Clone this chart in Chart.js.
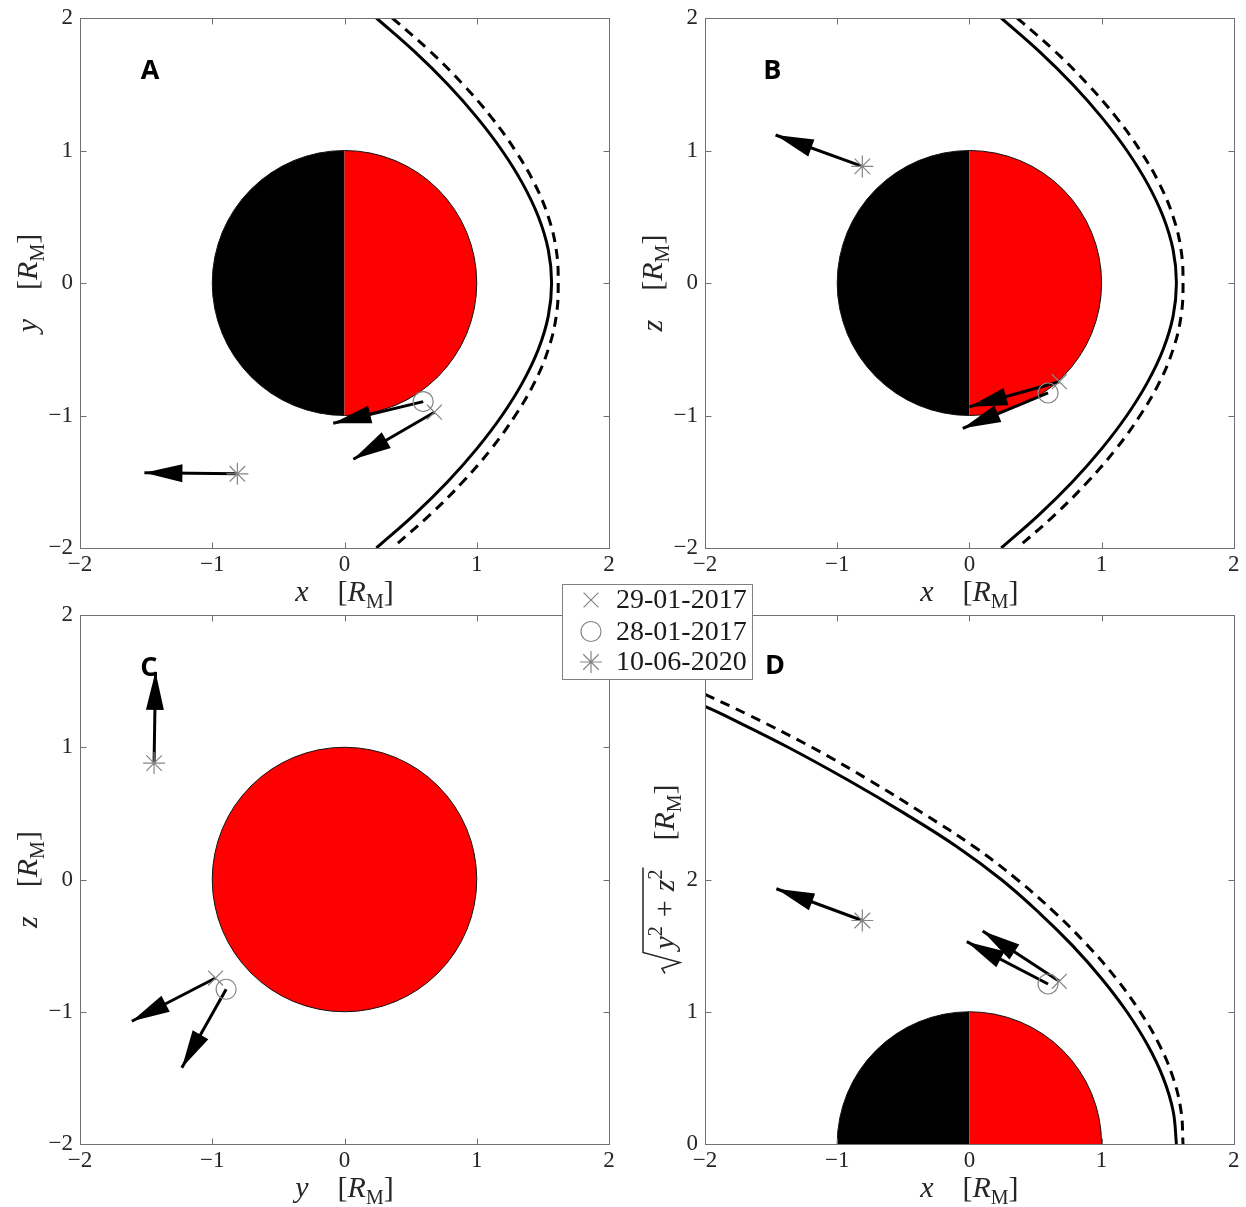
<!DOCTYPE html>
<html>
<head>
<meta charset="utf-8">
<title>Spacecraft positions and flow directions</title>
<script src="https://cdn.jsdelivr.net/npm/chart.js@4.4.1/dist/chart.umd.min.js"></script>
<style>
  html, body { margin: 0; padding: 0; background: #fff; }
  #wrap { position: relative; width: 1246px; height: 1207px; }
  #wrap canvas { position: absolute; left: 0; top: 0; }
</style>
</head>
<body>
<div id="wrap">
  <canvas id="panelA" width="1246" height="1207"></canvas>
  <canvas id="panelB" width="1246" height="1207"></canvas>
  <canvas id="panelC" width="1246" height="1207"></canvas>
  <canvas id="panelD" width="1246" height="1207"></canvas>
</div>
<script>
// everything in units of R_M
const axisMin = -2
const axisMax = 2
const rhoMax = 4
const rhoTicks = [0, 1, 2]
const planetRadius = 1

const dates = ['29-01-2017', '28-01-2017', '10-06-2020']

// spacecraft positions (same for every panel)
const posX = [0.68, 0.595, -0.81]
const posY = [-0.975, -0.895, -1.44]
const posZ = [-0.745, -0.83, 0.88]
const posRho = [1.23, 1.21, 1.69]

// arrow tips, one pair of arrays per panel
const tipAx = [0.067, -0.085, -1.513]
const tipAy = [-1.33, -1.059, -1.432]
const tipBx = [0.0, -0.05, -1.466]
const tipBz = [-0.934, -1.097, 1.117]
const tipCy = [-1.608, -1.23, -1.429]
const tipCz = [-1.072, -1.424, 1.57]
const tipDx = [0.10, -0.02, -1.46]
const tipDrho = [1.61, 1.53, 1.93]

// boundaries in the x-y and x-z planes (panels A and B)
const solidX = [0.241, 0.526, 0.780, 1.001, 1.191, 1.347, 1.466, 1.541, 1.566,
  1.541, 1.466, 1.347, 1.191, 1.001, 0.780, 0.526, 0.241]
const solidY = [2.0, 1.75, 1.5, 1.25, 1.0, 0.75, 0.5, 0.25, 0,
  -0.25, -0.5, -0.75, -1.0, -1.25, -1.5, -1.75, -2.0]
const dashX = [0.361, 0.646, 0.895, 1.111, 1.291, 1.437, 1.541, 1.601, 1.616,
  1.601, 1.541, 1.437, 1.291, 1.111, 0.895, 0.646, 0.361]
const dashY = [2.0, 1.75, 1.5, 1.25, 1.0, 0.75, 0.5, 0.25, 0,
  -0.25, -0.5, -0.75, -1.0, -1.25, -1.5, -1.75, -2.0]

// same boundaries against sqrt(y^2+z^2) (panel D)
const solidDx = [-2.0, -1.872, -1.372, -0.916, -0.491, -0.097, 0.241, 0.526, 0.780, 1.001, 1.191, 1.347, 1.466, 1.541, 1.566]
const solidDrho = [3.31, 3.25, 3.0, 2.75, 2.5, 2.25, 2.0, 1.75, 1.5, 1.25, 1.0, 0.75, 0.5, 0.25, 0]
const dashDx = [-2.0, -1.682, -1.192, -0.756, -0.351, 0.033, 0.361, 0.646, 0.895, 1.111, 1.291, 1.437, 1.541, 1.601, 1.616]
const dashDrho = [3.4, 3.25, 3.0, 2.75, 2.5, 2.25, 2.0, 1.75, 1.5, 1.25, 1.0, 0.75, 0.5, 0.25, 0]

// panel letters, placed in data coordinates
const letters = ['A', 'B', 'C', 'D']
const letterX = [-1.47, -1.49, -1.48, -1.47]
const letterY = [1.6, 1.6, 1.6, 3.61]

// styles
const markerStyles = ['crossRot', 'circle', 'star']
const markerRadius = [10.5, 10, 11]
const markerGray = '#858585'
const boxGray = '#707070'
const dayRed = '#ff0000'
const serif = '"Liberation Serif", "DejaVu Serif", serif'

const fRoman = '30px ' + serif
const fItal = 'italic 30px ' + serif
const fSub = '20px ' + serif
const rmRuns = [
  { t: '[', f: fRoman },
  { t: 'R', f: fItal },
  { t: 'M', f: fSub, dy: 7 },
  { t: ']', f: fRoman }
]
function coordTitle(c) {
  return [{ t: c, f: fItal }, { gap: 29 }].concat(rmRuns)
}
const rhoTitle = [
  { radical: true, w: 25 },
  { t: 'y', f: fItal },
  { t: '2', f: fSub, dy: -12 },
  { gap: 9 },
  { t: '+', f: fRoman },
  { gap: 9 },
  { t: 'z', f: fItal },
  { t: '2', f: fSub, dy: -12 },
  { endRadical: true },
  { gap: 29 }
].concat(rmRuns)

function fmtTick(v) {
  return v < 0 ? '\u2212' + (-v) : '' + v
}

function pts(xs, ys) {
  return xs.map((x, i) => ({ x: x, y: ys[i] }))
}

// text made of several runs (fonts, sub/superscripts), centred on cx
function drawRuns(ctx, runs, cx, baseY) {
  let w = 0
  runs.forEach(r => {
    if (r.gap) { w += r.gap; return }
    if (r.radical) { w += r.w; return }
    if (r.endRadical) return
    ctx.font = r.f
    r.mw = ctx.measureText(r.t).width
    w += r.mw
  })
  let x = cx - w / 2
  let radStart = null
  runs.forEach(r => {
    if (r.gap) { x += r.gap; return }
    if (r.radical) { radStart = x; x += r.w; return }
    if (r.endRadical) {
      const top = baseY - 31
      ctx.save()
      ctx.lineWidth = 1.5
      ctx.lineJoin = 'miter'
      ctx.beginPath()
      ctx.moveTo(radStart + 1, baseY - 9)
      ctx.lineTo(radStart + 6, baseY - 12)
      ctx.lineTo(radStart + 12, baseY + 6)
      ctx.lineTo(radStart + 22, top)
      ctx.lineTo(x + 2, top)
      ctx.stroke()
      ctx.restore()
      return
    }
    ctx.font = r.f
    ctx.fillText(r.t, x, baseY + (r.dy || 0))
    x += r.mw
  })
}

function drawMarker(ctx, style, x, y, r) {
  ctx.beginPath()
  if (style === 'circle') {
    ctx.arc(x, y, r, 0, Math.PI * 2)
  } else {
    const d = r * Math.SQRT1_2
    ctx.moveTo(x - d, y - d); ctx.lineTo(x + d, y + d)
    ctx.moveTo(x - d, y + d); ctx.lineTo(x + d, y - d)
    if (style === 'star') {
      ctx.moveTo(x - r, y); ctx.lineTo(x + r, y)
      ctx.moveTo(x, y - r); ctx.lineTo(x, y + r)
    }
  }
  ctx.stroke()
}

function decorPlugin(p) {
  return {
    id: 'decor',
    beforeDatasetsDraw(chart) {
      const ctx = chart.ctx
      const xs = chart.scales.x
      const ys = chart.scales.y
      const area = chart.chartArea
      const cx = xs.getPixelForValue(0)
      const cy = ys.getPixelForValue(0)
      const rx = xs.getPixelForValue(planetRadius) - cx
      const ry = cy - ys.getPixelForValue(planetRadius)

      ctx.save()
      ctx.beginPath()
      ctx.rect(area.left, area.top, area.right - area.left, area.bottom - area.top)
      ctx.clip()
      if (p.planet === 'split') {
        ctx.fillStyle = '#000'
        ctx.beginPath()
        ctx.ellipse(cx, cy, rx, ry, 0, Math.PI / 2, Math.PI * 1.5)
        ctx.closePath()
        ctx.fill()
        ctx.fillStyle = dayRed
        ctx.beginPath()
        ctx.ellipse(cx, cy, rx, ry, 0, -Math.PI / 2, Math.PI / 2)
        ctx.closePath()
        ctx.fill()
      } else {
        ctx.fillStyle = dayRed
        ctx.beginPath()
        ctx.ellipse(cx, cy, rx, ry, 0, 0, Math.PI * 2)
        ctx.fill()
      }
      ctx.strokeStyle = '#111'
      ctx.lineWidth = 1
      ctx.beginPath()
      ctx.ellipse(cx, cy, rx, ry, 0, 0, Math.PI * 2)
      ctx.stroke()
      ctx.restore()

      // panel letter
      ctx.save()
      ctx.fillStyle = '#000'
      ctx.font = 'bold 27px "Open Sans", "Liberation Sans", sans-serif'
      ctx.textAlign = 'center'
      ctx.textBaseline = 'middle'
      ctx.fillText(letters[p.letter], xs.getPixelForValue(letterX[p.letter]), ys.getPixelForValue(letterY[p.letter]))
      ctx.restore()
    },
    afterDatasetsDraw(chart) {
      // arrow heads at the tip of each shaft
      const ctx = chart.ctx
      const L = 38
      const W = 9
      ctx.save()
      ctx.fillStyle = '#000'
      chart.data.datasets.forEach((ds, i) => {
        if (!ds.isArrow) return
        const el = chart.getDatasetMeta(i).data
        const x0 = el[0].x, y0 = el[0].y, x1 = el[1].x, y1 = el[1].y
        const a = Math.atan2(y1 - y0, x1 - x0)
        const bx = x1 - L * Math.cos(a)
        const by = y1 - L * Math.sin(a)
        ctx.beginPath()
        ctx.moveTo(x1, y1)
        ctx.lineTo(bx + W * Math.sin(a), by - W * Math.cos(a))
        ctx.lineTo(bx - W * Math.sin(a), by + W * Math.cos(a))
        ctx.closePath()
        ctx.fill()
      })
      ctx.restore()
    },
    afterDraw(chart) {
      const ctx = chart.ctx
      const xs = chart.scales.x
      const ys = chart.scales.y
      const a = chart.chartArea
      const l = Math.round(a.left) + 0.5, r = Math.round(a.right) + 0.5
      const t = Math.round(a.top) + 0.5, b = Math.round(a.bottom) + 0.5

      ctx.save()
      ctx.strokeStyle = boxGray
      ctx.lineWidth = 1
      ctx.strokeRect(l, t, r - l, b - t)
      ctx.beginPath()
      xs.ticks.forEach(tk => {
        const px = Math.round(xs.getPixelForValue(tk.value)) + 0.5
        ctx.moveTo(px, b); ctx.lineTo(px, b - 6)
        ctx.moveTo(px, t); ctx.lineTo(px, t + 6)
      })
      ys.ticks.forEach(tk => {
        const py = Math.round(ys.getPixelForValue(tk.value)) + 0.5
        ctx.moveTo(l, py); ctx.lineTo(l + 6, py)
        ctx.moveTo(r, py); ctx.lineTo(r - 6, py)
      })
      ctx.stroke()

      // axis titles
      ctx.fillStyle = '#262626'
      ctx.strokeStyle = '#262626'
      ctx.textAlign = 'left'
      ctx.textBaseline = 'alphabetic'
      drawRuns(ctx, p.xTitle, (a.left + a.right) / 2, a.bottom + 53)
      ctx.translate(a.left - p.yTitleOff, (a.top + a.bottom) / 2)
      ctx.rotate(-Math.PI / 2)
      drawRuns(ctx, p.yTitle, 0, 0)
      ctx.restore()

      if (p.legend) drawLegend(ctx)
    }
  }
}

function drawLegend(ctx) {
  ctx.save()
  ctx.fillStyle = '#fff'
  ctx.fillRect(562.5, 584.5, 190, 95)
  ctx.strokeStyle = '#808080'
  ctx.lineWidth = 1
  ctx.strokeRect(562.5, 584.5, 190, 95)
  const rowY = [600, 631.5, 662]
  dates.forEach((d, i) => {
    ctx.strokeStyle = markerGray
    ctx.lineWidth = 1.2
    drawMarker(ctx, markerStyles[i], 591, rowY[i], markerRadius[i])
    ctx.fillStyle = '#1a1a1a'
    ctx.font = '28px ' + serif
    ctx.textAlign = 'left'
    ctx.textBaseline = 'middle'
    ctx.fillText(d, 616, rowY[i] + 1)
  })
  ctx.restore()
}

function makePanel(p) {
  const ds = []
  dates.forEach((d, i) => {
    ds.push({
      label: d,
      data: [{ x: p.px[i], y: p.py[i] }],
      pointStyle: markerStyles[i],
      pointRadius: markerRadius[i],
      borderColor: markerGray,
      backgroundColor: 'rgba(0,0,0,0)',
      borderWidth: 1.2
    })
  })
  dates.forEach((d, i) => {
    ds.push({
      label: d + ' direction',
      isArrow: true,
      data: [{ x: p.px[i], y: p.py[i] }, { x: p.tx[i], y: p.ty[i] }],
      showLine: true,
      pointRadius: 0,
      borderColor: '#000',
      borderWidth: 3,
      tension: 0
    })
  })
  p.curves.forEach(c => {
    ds.push({
      label: c.dashed ? 'boundary (dashed)' : 'boundary',
      data: pts(c.x, c.y),
      showLine: true,
      pointRadius: 0,
      borderColor: '#000',
      borderWidth: 3,
      borderDash: c.dashed ? [10, 7] : [],
      tension: 0.4
    })
  })

  const tickFont = { family: serif, size: 23 }
  return new Chart(document.getElementById(p.id).getContext('2d'), {
    type: 'scatter',
    data: { datasets: ds },
    options: {
      responsive: false,
      animation: false,
      devicePixelRatio: 1,
      events: [],
      layout: { padding: p.pad },
      plugins: { legend: { display: false }, tooltip: { enabled: false } },
      scales: {
        x: {
          type: 'linear',
          min: axisMin,
          max: axisMax,
          grid: { display: false, drawTicks: false },
          border: { display: false },
          ticks: { stepSize: 1, padding: 3, color: '#262626', font: tickFont, maxRotation: 0, callback: fmtTick },
          afterFit: s => { s.height = 40; s.paddingLeft = 0; s.paddingRight = 0 }
        },
        y: {
          type: 'linear',
          min: p.yMin,
          max: p.yMax,
          grid: { display: false, drawTicks: false },
          border: { display: false },
          ticks: { stepSize: 1, padding: 7, color: '#262626', font: tickFont, callback: fmtTick },
          afterBuildTicks: s => { if (p.yTicks) s.ticks = p.yTicks.map(v => ({ value: v })) },
          afterFit: s => { s.width = 80; s.paddingTop = 0; s.paddingBottom = 0 }
        }
      }
    },
    plugins: [decorPlugin(p)]
  })
}

const boundaryAB = [{ x: solidX, y: solidY, dashed: false }, { x: dashX, y: dashY, dashed: true }]

makePanel({
  id: 'panelA', letter: 0, planet: 'split', yMin: axisMin, yMax: axisMax, yTicks: null,
  pad: { left: 0, top: 18, right: 637, bottom: 619 },
  curves: boundaryAB,
  px: posX, py: posY, tx: tipAx, ty: tipAy,
  xTitle: coordTitle('x'), yTitle: coordTitle('y'), yTitleOff: 43
})
makePanel({
  id: 'panelB', letter: 1, planet: 'split', yMin: axisMin, yMax: axisMax, yTicks: null,
  pad: { left: 625, top: 18, right: 11, bottom: 619 },
  curves: boundaryAB,
  px: posX, py: posZ, tx: tipBx, ty: tipBz,
  xTitle: coordTitle('x'), yTitle: coordTitle('z'), yTitleOff: 43
})
makePanel({
  id: 'panelC', letter: 2, planet: 'day', yMin: axisMin, yMax: axisMax, yTicks: null,
  pad: { left: 0, top: 615, right: 637, bottom: 23 },
  curves: [],
  px: posY, py: posZ, tx: tipCy, ty: tipCz,
  xTitle: coordTitle('y'), yTitle: coordTitle('z'), yTitleOff: 43
})
makePanel({
  id: 'panelD', letter: 3, planet: 'split', yMin: 0, yMax: rhoMax, yTicks: rhoTicks,
  pad: { left: 625, top: 615, right: 11, bottom: 23 },
  curves: [{ x: solidDx, y: solidDrho, dashed: false }, { x: dashDx, y: dashDrho, dashed: true }],
  px: posX, py: posRho, tx: tipDx, ty: tipDrho,
  xTitle: coordTitle('x'), yTitle: rhoTitle, yTitleOff: 31,
  legend: true
})
</script>
</body>
</html>
